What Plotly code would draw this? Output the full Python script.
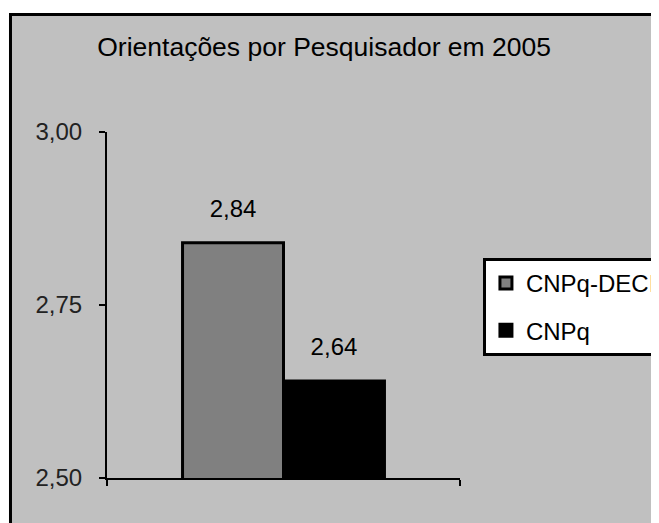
import plotly.graph_objects as go

# data
category = ["2005"]
series = ["CNPq-DECIT", "CNPq"]
values = [2.84, 2.64]
colors = ["#808080", "#000000"]
y_ticks = [2.50, 2.75, 3.00]

FONT = "Liberation Sans, Arial, sans-serif"

fig = go.Figure()

# bars
for name, val, col in zip(series, values, colors):
    fig.add_trace(go.Bar(
        x=category, y=[val], name=name, legendgroup=name,
        marker=dict(color=col, line=dict(color="black", width=3)),
        offsetgroup=name,
    ))

# value labels sitting above each bar
for name, val in zip(series, values):
    fig.add_trace(go.Scatter(
        x=category, y=[val], mode="markers+text", showlegend=False,
        offsetgroup=name,
        marker=dict(size=30, color="rgba(0,0,0,0)"),
        text=[f"{val:.2f}".replace(".", ",")], textposition="top center",
        textfont=dict(size=24, color="black", family=FONT),
        cliponaxis=False, hoverinfo="skip",
    ))

# outer frame of the chart area (gray panel with black border)
fig.add_shape(type="rect", xref="paper", yref="paper",
              x0=-0.2734, x1=1.6, y0=-0.2, y1=1.3396,
              fillcolor="#c0c0c0", line=dict(color="black", width=3),
              layer="below")

# page body has an 8px margin, so the figure is 8px smaller than the window
fig.update_layout(
    width=651, height=515,
    margin=dict(l=99, r=199, t=124, b=45, autoexpand=False),
    paper_bgcolor="white", plot_bgcolor="#c0c0c0",
    barmode="group", bargap=0.428, bargroupgap=0,
    scattermode="group", scattergap=0.428,
    separators=",.",
    font=dict(family=FONT, size=24, color="black"),
    title=dict(text="Orientações por Pesquisador em 2005",
               x=0.615, xref="paper", xanchor="center",
               y=1 - 39 / 515, yref="container", yanchor="middle",
               font=dict(size=26.5, color="black", family=FONT)),
    legend=dict(x=1.065, y=0.636, xanchor="left", yanchor="top",
                bgcolor="white", bordercolor="black", borderwidth=3,
                font=dict(size=24, color="black", family=FONT),
                tracegroupgap=13),
    showlegend=True,
)

fig.update_xaxes(showline=True, linecolor="black", linewidth=2,
                 ticks="outside", tickson="boundaries", ticklen=6,
                 tickwidth=2, tickcolor="black",
                 showticklabels=False, showgrid=False, zeroline=False)
fig.update_yaxes(range=[2.5, 3.0], tickvals=y_ticks, tickformat=".2f",
                 showline=True, linecolor="black", linewidth=2,
                 ticks="outside", ticklen=6, tickwidth=2, tickcolor="black",
                 ticklabelstandoff=12,
                 tickfont=dict(size=24, color="#222222", family=FONT),
                 showgrid=False, zeroline=False)

fig.write_html("out.html")
